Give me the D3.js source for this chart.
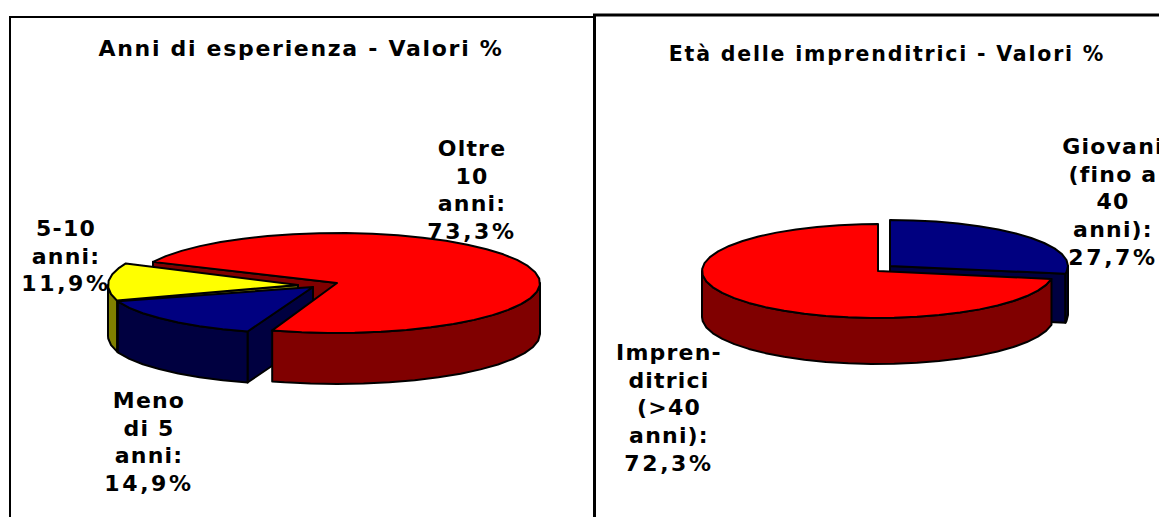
<!doctype html>
<html>
<head>
    <meta charset="utf-8">
    <script src="https://d3js.org/d3.v7.min.js"></script>
    <style>
        html, body { margin: 0; padding: 0; background: #fff; overflow: hidden; }
        svg { display: block; }
        text { font-family: "DejaVu Sans", sans-serif; font-weight: bold; fill: #000; }
    </style>
</head>
<body>
    <svg width="1159" height="517" id="mainsvg"></svg>
    <script>
        // left pie
        const expCategories = ['Oltre 10 anni', 'Meno di 5 anni', '5-10 anni'];
        const expValues = [73.3, 14.9, 11.9];
        const expLabels = [
            ['Oltre', '10', 'anni:', '73,3%'],
            ['Meno', 'di 5', 'anni:', '14,9%'],
            ['5-10', 'anni:', '11,9%']
        ];

        // right pie
        const ageCategories = ['Giovani (fino a 40 anni)', 'Imprenditrici (>40 anni)'];
        const ageValues = [27.7, 72.3];
        const ageLabels = [
            ['Giovani', '(fino a', '40', 'anni):', '27,7%'],
            ['Impren-', 'ditrici', '(>40', 'anni):', '72,3%']
        ];

        const colors = {
            red: {top: '#ff0000', side: '#800000'},
            blue: {top: '#000080', side: '#000040'},
            yellow: {top: '#ffff00', side: '#808000'}
        };

        const svg = d3.select('svg');
        const line = d3.line();

        function face(g, pts, fill)
        {
            g.append('path')
            .attr('d', line(pts) + 'Z')
            .attr('fill', fill)
            .attr('stroke', 'black')
            .attr('stroke-width', 2)
            .attr('stroke-linejoin', 'round');
        }

        // the flat cut side of a slice, from the centre out to the rim at angle a
        function drawCut(g, a, o, col)
        {
            const x = o.cx + o.rx * Math.sin(a);
            const y = o.cy - o.ry * Math.cos(a);
            face(g, [[o.cx, o.cy], [x, y], [x, y + o.depth], [o.cx, o.cy + o.depth]], col.side);
        }

        // one extruded slice, the ellipse is a flattened circle
        function drawSlice(g, arc, o, col, skipStartCut)
        {
            const px = a => o.cx + o.rx * Math.sin(a);
            const py = a => o.cy - o.ry * Math.cos(a);
            const step = Math.PI / 24;

            const sample = (a0, a1) => {
                const pts = d3.range(a0, a1, step);
                pts.push(a1);
                return pts;
            };

            if(!skipStartCut && Math.sin(arc.startAngle) < -1e-6)
                drawCut(g, arc.startAngle, o, col);
            if(Math.sin(arc.endAngle) > 1e-6)
                drawCut(g, arc.endAngle, o, col);

            const wallFrom = Math.max(arc.startAngle, Math.PI / 2);
            const wallTo = Math.min(arc.endAngle, Math.PI * 3 / 2);
            if(wallTo > wallFrom)
            {
                const angles = sample(wallFrom, wallTo);
                const upper = angles.map(a => [px(a), py(a)]);
                const lower = angles.slice().reverse().map(a => [px(a), py(a) + o.depth]);
                face(g, upper.concat(lower), col.side);
            }

            const rim = sample(arc.startAngle, arc.endAngle).map(a => [px(a), py(a)]);
            face(g, [[o.cx, o.cy]].concat(rim), col.top);
        }

        function drawLabel(lines, x, y)
        {
            const t = svg.append('text')
            .attr('text-anchor', 'middle')
            .attr('font-size', 22);
            lines.forEach((s, i) => {
                t.append('tspan')
                .attr('x', x)
                .attr('y', y + i * 27.7)
                // digits run wider than the letters in the original face
                .attr('letter-spacing', s.includes('%') ? 2.6 : 1.2)
                .text(s);
            });
        }

        // frames
        const frames = [
            [[10, 517], [10, 17], [594, 17]],
            [[594.5, 517], [594.5, 15], [1159, 15]]
        ];
        frames.forEach((f, i) => {
            svg.append('path')
            .attr('d', line(f))
            .attr('fill', 'none')
            .attr('stroke', 'black')
            .attr('stroke-width', i == 0 ? 2 : 3);
        });

        // titles
        svg.append('text').attr('x', 301).attr('y', 56)
        .attr('text-anchor', 'middle').attr('font-size', 22).attr('letter-spacing', 1.7)
        .text('Anni di esperienza - Valori %');
        svg.append('text').attr('x', 887).attr('y', 61)
        .attr('text-anchor', 'middle').attr('font-size', 20.5).attr('letter-spacing', 1.8)
        .text('Età delle imprenditrici - Valori %');

        // left pie, painter's order: red's back cut, yellow, blue, then red on top
        const toRad = Math.PI / 180;
        const expArcs = d3.pie().sort(null)
            .startAngle(-65 * toRad).endAngle(295 * toRad)(expValues);
        const left = svg.append('g');
        const expShapes = [
            {cx: 337, cy: 283, rx: 203, ry: 50, depth: 51},
            {cx: 313, cy: 287, rx: 205, ry: 47, depth: 51},
            {cx: 298, cy: 285, rx: 190, ry: 51, depth: 51}
        ];
        drawCut(left, expArcs[0].startAngle, expShapes[0], colors.red);
        drawSlice(left, expArcs[2], expShapes[2], colors.yellow);
        drawSlice(left, expArcs[1], expShapes[1], colors.blue);
        drawSlice(left, expArcs[0], expShapes[0], colors.red, true);

        // right pie
        const ageArcs = d3.pie().sort(null)(ageValues);
        const right = svg.append('g');
        drawSlice(right, ageArcs[0], {cx: 890, cy: 266, rx: 178, ry: 46, depth: 49}, colors.blue);
        drawSlice(right, ageArcs[1], {cx: 878, cy: 271, rx: 176, ry: 47, depth: 46}, colors.red);

        // labels
        const expPos = [[472, 156], [149, 408], [66, 236]];
        expLabels.forEach((l, i) => drawLabel(l, expPos[i][0], expPos[i][1]));
        const agePos = [[1113, 154], [669, 360]];
        ageLabels.forEach((l, i) => drawLabel(l, agePos[i][0], agePos[i][1]));
    </script>
</body>
</html>
